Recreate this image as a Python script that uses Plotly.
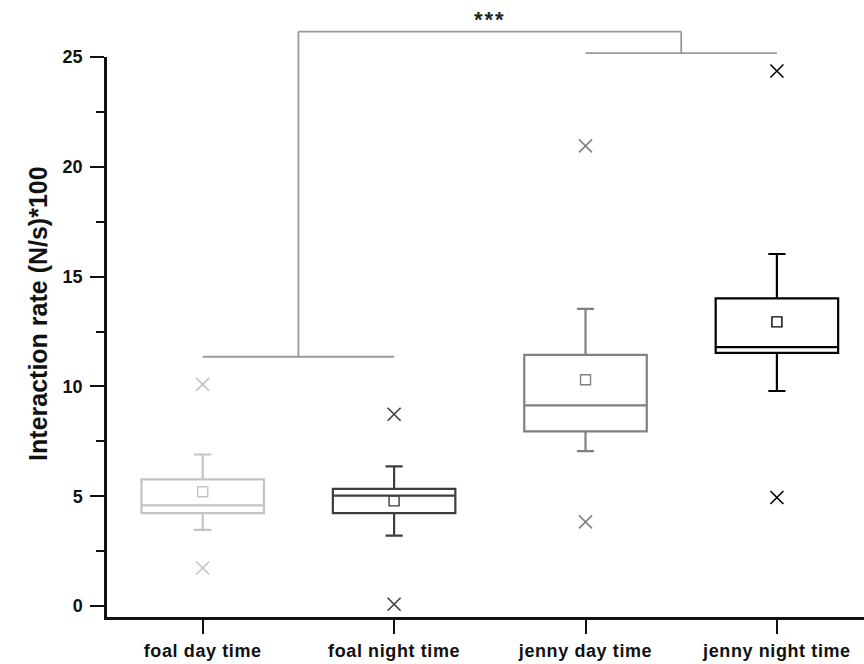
import plotly.graph_objects as go

# ---- data ----
categories = ["foal day time", "foal night time", "jenny day time", "jenny night time"]
q1 = [4.23, 4.23, 7.95, 11.53]
median = [4.58, 5.03, 9.14, 11.79]
q3 = [5.77, 5.33, 11.44, 14.01]
whisker_low = [3.47, 3.21, 7.05, 9.79]
whisker_high = [6.90, 6.36, 13.53, 16.03]
means = [5.20, 4.79, 10.30, 12.94]
mins = [1.73, 0.08, 3.83, 4.94]
maxs = [10.09, 8.73, 20.95, 24.36]
colors = ["#c4c4c4", "#3e3e3e", "#808080", "#000000"]

# significance brackets
bracket_foal_y = 11.35
bracket_jenny_y = 25.18
bracket_top_y = 26.16
sig_label = "***"
y_title = "Interaction rate (N/s)*100"
y_ticks = [0, 5, 10, 15, 20, 25]
y_minor = [2.5, 7.5, 12.5, 17.5, 22.5]

y_range = [-0.5, 25.0]
x_range = [-0.5, 3.455]
positions = list(range(len(categories)))

FONT = "Liberation Sans, Arial, sans-serif"

fig = go.Figure()

for i, cat in enumerate(categories):
    fig.add_trace(go.Box(
        x=[positions[i]], q1=[q1[i]], median=[median[i]], q3=[q3[i]],
        lowerfence=[whisker_low[i]], upperfence=[whisker_high[i]],
        width=0.64, whiskerwidth=0.14,
        line=dict(color=colors[i], width=2.2),
        fillcolor="rgba(0,0,0,0)",
        boxpoints=False, name=cat, showlegend=False, hoverinfo="skip",
    ))

# means (open squares)
fig.add_trace(go.Scatter(
    x=positions, y=means, mode="markers", showlegend=False,
    marker=dict(symbol="square-open", size=10, color=colors,
                line=dict(width=1.4, color=colors)),
))
# min / max (crosses)
fig.add_trace(go.Scatter(
    x=positions + positions, y=mins + maxs, mode="markers", showlegend=False,
    marker=dict(symbol="x-thin-open", size=13, color=colors + colors,
                line=dict(width=1.6, color=colors + colors)),
))


def py(v):
    return (v - y_range[0]) / (y_range[1] - y_range[0])


br_col = "#9a9a9a"
br_w = 1.8
mid_foal = (positions[0] + positions[1]) / 2
mid_jenny = (positions[2] + positions[3]) / 2
lines = [
    (positions[0], bracket_foal_y, positions[1], bracket_foal_y),
    (mid_foal, bracket_foal_y, mid_foal, bracket_top_y),
    (positions[2], bracket_jenny_y, positions[3], bracket_jenny_y),
    (mid_jenny, bracket_jenny_y, mid_jenny, bracket_top_y),
    (mid_foal, bracket_top_y, mid_jenny, bracket_top_y),
]
for x0, y0, x1, y1 in lines:
    fig.add_shape(type="line", xref="x", yref="paper",
                  x0=x0, x1=x1, y0=py(y0), y1=py(y1),
                  line=dict(color=br_col, width=br_w))

fig.add_annotation(x=(mid_foal + mid_jenny) / 2, y=py(bracket_top_y),
                   xref="x", yref="paper",
                   text='<span style="letter-spacing:2px">' + sig_label + '</span>',
                   showarrow=False, yanchor="bottom", yshift=-2,
                   font=dict(family=FONT, size=22, color="#222", weight="bold"))

fig.add_annotation(x=-0.1123, y=0.543, xref="paper", yref="paper",
                   text=y_title, textangle=-90, showarrow=False,
                   font=dict(family=FONT, size=25, color="#111", weight="bold"))

fig.update_layout(
    width=864, height=664,
    margin=dict(l=107, r=0, t=57, b=47),
    paper_bgcolor="white", plot_bgcolor="white",
    showlegend=False,
    font=dict(family=FONT, color="#111"),
)
fig.update_xaxes(
    range=x_range, tickmode="array", tickvals=positions,
    ticktext=['<span style="letter-spacing:0.6px">' + c + '</span>' for c in categories],
    showline=True, linecolor="#111", linewidth=2.5,
    ticks="outside", ticklen=14, tickwidth=2, tickcolor="#111",
    ticklabelstandoff=2,
    showgrid=False, zeroline=False, automargin=False,
    tickfont=dict(family=FONT, size=18, color="#111", weight="bold"),
)
fig.update_yaxes(
    range=y_range, tickmode="array", tickvals=y_ticks,
    showline=True, linecolor="#111", linewidth=2.5,
    ticks="outside", ticklen=14, tickwidth=2, tickcolor="#111",
    ticklabelstandoff=4,
    minor=dict(tickmode="array", tickvals=y_minor,
               ticks="outside", ticklen=8, tickwidth=2, tickcolor="#111"),
    showgrid=False, zeroline=False, automargin=False,
    tickfont=dict(family=FONT, size=18, color="#111", weight="bold"),
)

fig.write_html("out.html", config={"displayModeBar": False},
               post_script="document.body.style.margin='0px';document.body.style.padding='0px';")
